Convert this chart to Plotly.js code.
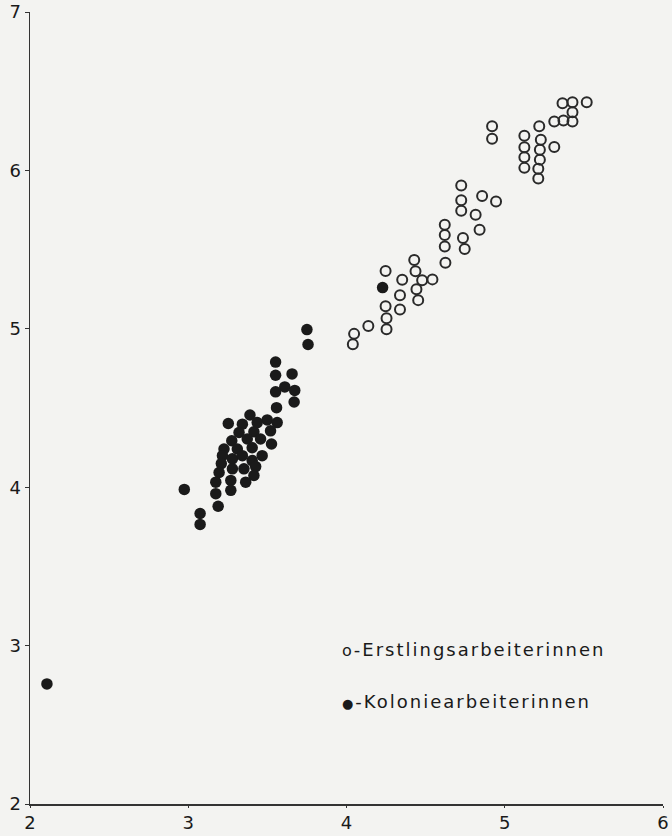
<!DOCTYPE html>
<html>
<head>
<meta charset="utf-8">
<script src="https://cdn.plot.ly/plotly-3.0.1.min.js"></script>
<style>
html,body{margin:0;padding:0;background:#f3f3f1;}
#chart{width:672px;height:836px;}
</style>
</head>
<body>
<div id="chart"></div>
<script>
// Erstlingsarbeiterinnen (open circles)
const erstX = [5.365,5.428,5.518,5.428,5.313,5.371,5.428,4.920,4.920,5.218,5.124,5.228,5.124,5.222,5.313,5.124,5.222,5.124,5.212,5.212,
  4.725,4.725,4.857,4.945,4.725,4.816,4.621,4.621,4.841,4.736,4.621,4.747,4.625,4.428,4.247,4.436,4.352,4.478,4.543,4.442,
  4.338,4.453,4.247,4.338,4.253,4.138,4.253,4.048,4.040];
const erstY = [6.424,6.430,6.430,6.367,6.309,6.315,6.309,6.278,6.200,6.278,6.219,6.194,6.146,6.131,6.148,6.083,6.068,6.016,6.010,5.949,
  5.905,5.811,5.839,5.803,5.745,5.720,5.657,5.592,5.626,5.573,5.519,5.504,5.417,5.435,5.365,5.363,5.310,5.306,5.312,5.250,
  5.212,5.181,5.143,5.122,5.066,5.018,4.997,4.968,4.903];

// Koloniearbeiterinnen (filled circles)
const kolX = [3.750,3.757,3.552,3.552,3.656,3.610,3.552,3.673,3.669,3.558,3.390,3.499,3.562,3.253,3.342,3.436,3.520,3.415,3.321,3.275,
  3.373,3.457,3.526,3.226,3.310,3.404,3.216,3.279,3.342,3.467,3.404,3.209,3.279,3.352,3.426,3.195,3.415,3.269,3.363,3.174,
  3.174,3.269,3.189,2.975,3.075,3.075,2.107,4.228];
const kolY = [4.995,4.901,4.790,4.707,4.715,4.633,4.602,4.611,4.538,4.502,4.456,4.425,4.408,4.402,4.398,4.408,4.356,4.350,4.345,4.293,
  4.304,4.304,4.273,4.241,4.241,4.249,4.199,4.179,4.199,4.199,4.168,4.149,4.116,4.116,4.130,4.093,4.074,4.043,4.032,4.032,
  3.959,3.980,3.880,3.986,3.834,3.765,2.758,5.260];

const xTicks = [2,3,4,5,6];
const yTicks = [2,3,4,5,6,7];
const legendTexts = ["<span style='letter-spacing:2px'><span style='font-size:16px'>o</span>-Erstlingsarbeiterinnen</span>",
                     "<span style='letter-spacing:2px'><span style='font-size:13px'>\u25CF</span>-Koloniearbeiterinnen</span>"];

const fontFam = "DejaVu Sans, sans-serif";

const traces = [
  {x: erstX, y: erstY, mode: 'markers', type: 'scatter', name: 'Erstlingsarbeiterinnen',
   marker: {symbol: 'circle-open', size: 10, color: '#2a2a2a', line: {width: 2, color: '#2a2a2a'}}},
  {x: kolX, y: kolY, mode: 'markers', type: 'scatter', name: 'Koloniearbeiterinnen',
   marker: {symbol: 'circle', size: 11.5, color: '#1a1a1a'}}
];

const layout = {
  width: 672, height: 836,
  margin: {l: 30, r: 9, t: 12, b: 32},
  paper_bgcolor: '#f3f3f1',
  plot_bgcolor: '#f3f3f1',
  showlegend: false,
  font: {family: fontFam, size: 17, color: '#1a1a1a'},
  xaxis: {range: [2, 6], tickvals: xTicks, ticktext: xTicks.map(String),
    showgrid: false, zeroline: false, showline: true, linecolor: '#333', linewidth: 1.5,
    ticks: 'outside', ticklen: 2, tickcolor: '#333', tickfont: {family: fontFam, size: 18, color: '#1a1a1a'}},
  yaxis: {range: [2, 7], tickvals: yTicks, ticktext: yTicks.map(String),
    showgrid: false, zeroline: false, showline: true, linecolor: '#333', linewidth: 1.5,
    ticks: 'outside', ticklen: 4, tickcolor: '#333', tickfont: {family: fontFam, size: 18, color: '#1a1a1a'}},
  annotations: [
    {xref: 'paper', yref: 'paper', x: 0.49, y: 0.195, xanchor: 'left', yanchor: 'middle',
     text: legendTexts[0], showarrow: false, font: {family: fontFam, size: 18, color: '#1a1a1a'}},
    {xref: 'paper', yref: 'paper', x: 0.49, y: 0.129, xanchor: 'left', yanchor: 'middle',
     text: legendTexts[1], showarrow: false, font: {family: fontFam, size: 18, color: '#1a1a1a'}}
  ]
};

Plotly.newPlot('chart', traces, layout, {staticPlot: true, displayModeBar: false});
</script>
</body>
</html>
